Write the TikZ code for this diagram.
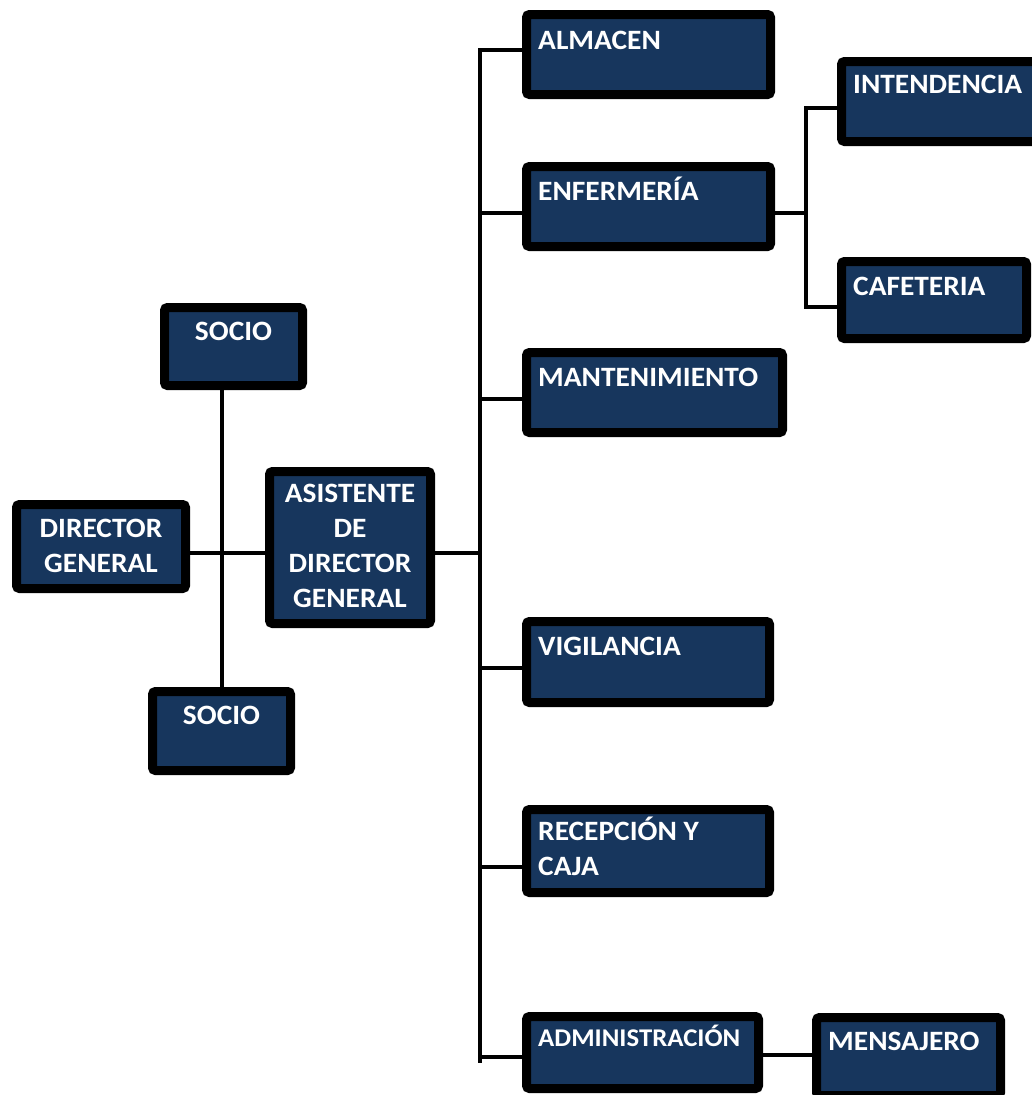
\documentclass[tikz,border=0pt]{standalone}
\usepackage{fontspec}
\setmainfont{Carlito}[FakeStretch=1.05]
\definecolor{navy}{RGB}{23,54,93}
\tikzset{
  box/.style={rectangle, draw=black, line width=9pt, fill=navy,
              rounded corners=3pt, inner sep=0pt},
  lbl/.style={text=white, inner sep=0pt, align=left, anchor=base west,
              font=\bfseries\fontsize{28}{35}\selectfont},
  slbl/.style={lbl, font=\bfseries\fontsize{25.5}{35}\selectfont},
  clbl/.style={lbl, align=center, anchor=base},
  link/.style={draw=black, line width=3.5pt},
}
\begin{document}
\begin{tikzpicture}[x={(1pt,0pt)}, y={(0pt,-1pt)}]
  \clip (0,0) rectangle (1032,1095);
  \fill[white] (0,0) rectangle (1032,1095);

  % boxes
  \node[box, minimum width=138pt, minimum height=78pt]  (socioA)   at (233.5,346.5) {};
  \node[box, minimum width=169pt, minimum height=84pt]  (director) at (101,546.5) {};
  \node[box, minimum width=161pt, minimum height=152pt] (asist)    at (350,547.5) {};
  \node[box, minimum width=138pt, minimum height=79pt]  (socioB)   at (221.5,731) {};
  \node[box, minimum width=244pt, minimum height=80pt]  (almacen)  at (648.5,54.5) {};
  \node[box, minimum width=244pt, minimum height=80pt]  (enf)      at (648.5,206.5) {};
  \node[box, minimum width=256pt, minimum height=80pt]  (mant)     at (654.5,392.5) {};
  \node[box, minimum width=243pt, minimum height=81pt]  (vig)      at (648,662) {};
  \node[box, minimum width=243pt, minimum height=83pt]  (recep)    at (648,851) {};
  \node[box, minimum width=232pt, minimum height=72pt]  (admin)    at (642.5,1052.5) {};
  \node[box, minimum width=214pt, minimum height=80pt]  (intend)   at (948.5,101.5) {};
  \node[box, minimum width=185pt, minimum height=77pt]  (cafe)     at (934,300) {};
  \node[box, minimum width=184pt, minimum height=78pt]  (mens)     at (908.5,1056.5) {};

  % junction points of the connectors
  \coordinate (hub)   at (222,553);
  \coordinate (jA)    at (480,553);
  \coordinate (sTop)  at (480,50);
  \coordinate (sEnf)  at (480,213);
  \coordinate (sMan)  at (480,399);
  \coordinate (sVig)  at (480,668);
  \coordinate (sRec)  at (480,867);
  \coordinate (sAdm)  at (480,1057);
  \coordinate (sBot)  at (480,1063);
  \coordinate (eMid)  at (806,213);
  \coordinate (eTop)  at (806,108);
  \coordinate (eBot)  at (806,307);
  \coordinate (mAdm)  at (790,1055);

  % connectors
  \draw[link] (hub |- socioA.south) -- (hub |- socioB.north);
  \draw[link] (hub -| director.east) -- (hub -| asist.west);
  \draw[link] (jA -| asist.east) -- (jA);
  \draw[link] (sTop -| almacen.west) -- (sTop) -- (sBot);
  \draw[link] (sEnf) -- (sEnf -| enf.west);
  \draw[link] (sMan) -- (sMan -| mant.west);
  \draw[link] (sVig) -- (sVig -| vig.west);
  \draw[link] (sRec) -- (sRec -| recep.west);
  \draw[link] (sAdm) -- (sAdm -| admin.west);
  \draw[link] (eMid -| enf.east) -- (eMid);
  \draw[link] (eTop -| intend.west) -- (eTop) -- (eBot) -- (eBot -| cafe.west);
  \draw[link] (mAdm -| admin.east) -- (mAdm -| mens.west);

  % labels (base anchor sits on the last line of a multi-line label)
  \node[clbl] (tSocioA) at ([yshift=-37pt]socioA.north) {SOCIO};
  \node[clbl] (tDir)    at ([yshift=-72pt]director.north) {DIRECTOR\\GENERAL};
  \node[clbl] (tAsist)  at ([yshift=-140pt]asist.north) {ASISTENTE\\DE\\DIRECTOR\\GENERAL};
  \node[clbl] (tSocioB) at ([yshift=-37pt]socioB.north) {SOCIO};
  \node[lbl] (tAlm)  at ([xshift=16pt,yshift=-39pt]almacen.north west) {ALMACEN};
  \node[lbl] (tEnf)  at ([xshift=16pt,yshift=-38pt]enf.north west) {ENFERMERÍA};
  \node[lbl] (tMan)  at ([xshift=16pt,yshift=-38pt]mant.north west) {MANTENIMIENTO};
  \node[lbl] (tVig)  at ([xshift=16pt,yshift=-38pt]vig.north west) {VIGILANCIA};
  \node[lbl] (tRec)  at ([xshift=16pt,yshift=-70pt]recep.north west) {RECEPCIÓN Y\\CAJA};
  \node[slbl] (tAdm) at ([xshift=16pt,yshift=-34pt]admin.north west) {ADMINISTRACIÓN};
  \node[lbl] (tInt)  at ([xshift=16pt,yshift=-36pt]intend.north west) {INTENDENCIA};
  \node[lbl] (tCaf)  at ([xshift=16pt,yshift=-38pt]cafe.north west) {CAFETERIA};
  \node[lbl] (tMen)  at ([xshift=16pt,yshift=-37pt]mens.north west) {MENSAJERO};
\end{tikzpicture}
\end{document}
